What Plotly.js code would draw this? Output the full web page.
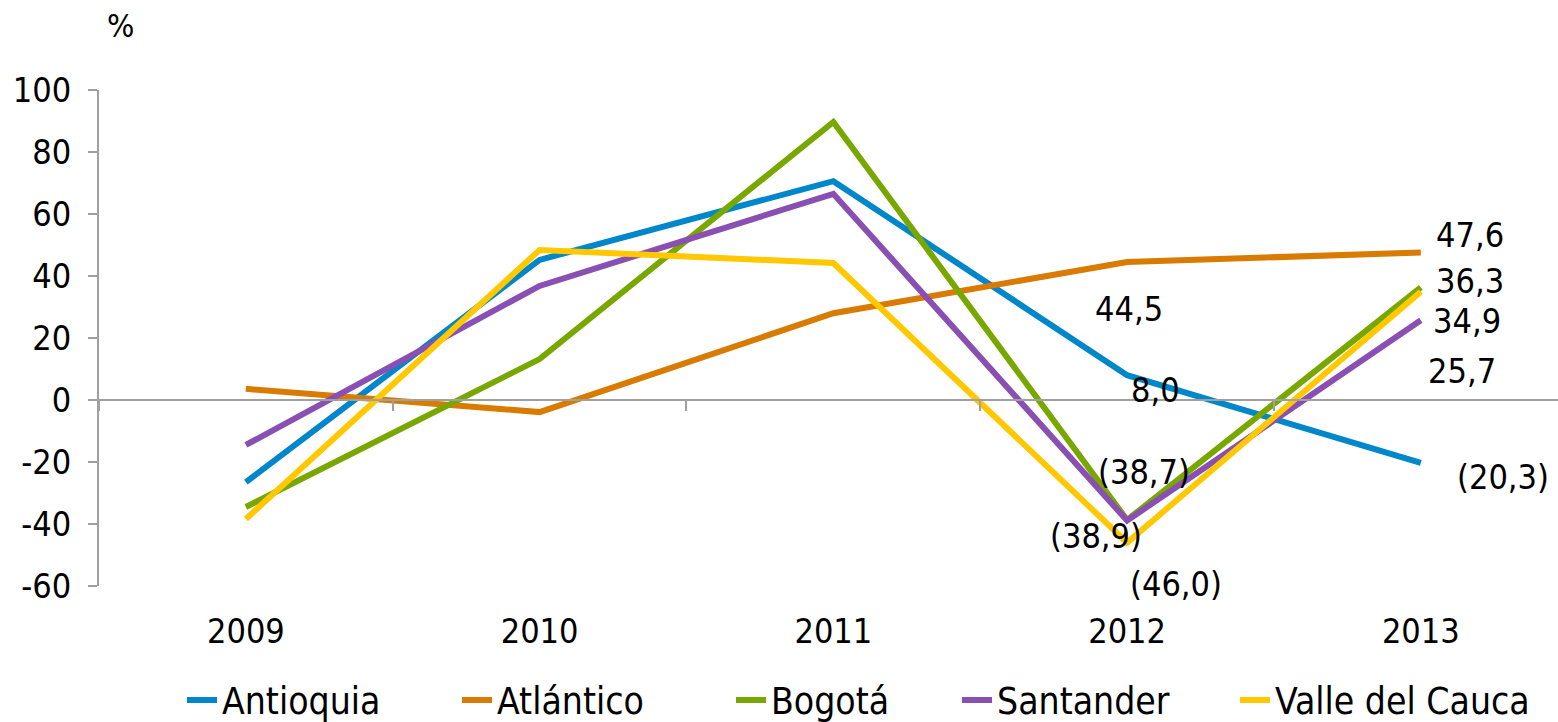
<!DOCTYPE html>
<html>
<head>
<meta charset="utf-8">
<script src="https://cdn.plot.ly/plotly-3.0.1.min.js"></script>
<style>
html,body{margin:0;padding:0;background:#fff;}
#chart{width:1558px;height:722px;}
</style>
</head>
<body>
<div id="chart"></div>
<script>
// ---- data ----
var years = ['2009', '2010', '2011', '2012', '2013'];
var antioquia = [-26.5, 45.2, 70.6, 8.0, -20.3];
var atlantico = [3.6, -3.9, 28.0, 44.5, 47.6];
var bogota = [-34.5, 13.2, 89.7, -38.7, 36.3];
var santander = [-14.5, 36.8, 66.5, -38.9, 25.7];
var valle = [-38.4, 48.4, 44.2, -46.0, 34.9];
var seriesNames = ['Antioquia', 'Atlántico', 'Bogotá', 'Santander', 'Valle del Cauca'];
var yTicks = [-60, -40, -20, 0, 20, 40, 60, 80, 100];

// ---- styles ----
var FONT = '"DejaVu Sans Condensed", "DejaVu Sans", sans-serif';
var colors = ['#0086CB', '#D97B00', '#78A800', '#894FB2', '#FFC800'];
var allSeries = [antioquia, atlantico, bogota, santander, valle];
var legendIds = ['legend', 'legend2', 'legend3', 'legend4', 'legend5'];
var legendLeft = [182, 457, 731, 957, 1235]; // px, text start minus symbol area

var traces = allSeries.map(function (vals, k) {
  return {
    type: 'scatter', mode: 'lines', x: years, y: vals, name: seriesNames[k],
    legend: legendIds[k],
    line: {color: colors[k], width: 6}, hoverinfo: 'x+y+name'
  };
});
// invisible trace to activate the zero-position category axis
traces.push({type: 'scatter', mode: 'lines', x: years, y: years.map(function(){return null;}),
  xaxis: 'x2', yaxis: 'y', showlegend: false, hoverinfo: 'skip', line: {width: 0}});

function fmt(v) {
  var s = Math.abs(v).toFixed(1).replace('.', ',');
  return v < 0 ? '(' + s + ')' : s;
}

// label placements: [series index, year index, xshift, yshift]
var labelSpecs = [
  [1, 4, 49, 17], [2, 4, 49, 6], [4, 4, 46, -29], [3, 4, 41, -51], [0, 4, 82, -14],
  [1, 3, 2, -47], [0, 3, 28, -15], [2, 3, 17, 48], [3, 3, -31, -15], [4, 3, 49, -41]
];
var annotations = labelSpecs.map(function (s) {
  var v = allSeries[s[0]][s[1]];
  return {x: s[1], y: v, xref: 'x', yref: 'y', text: fmt(v), showarrow: false,
    xanchor: 'center', yanchor: 'middle',
    xshift: s[2], yshift: s[3], font: {family: FONT, size: 34, color: '#000'}};
});
annotations.push({xref: 'paper', yref: 'paper', x: 0.015, y: 1.13, text: '%', showarrow: false,
  xanchor: 'center', yanchor: 'middle', font: {family: FONT, size: 32, color: '#000'}});

var xRange = [-0.5, 4.467];
var layout = {
  width: 1558, height: 722,
  margin: {l: 99, r: 0, t: 90, b: 136},
  paper_bgcolor: '#fff', plot_bgcolor: '#fff',
  showlegend: true,
  xaxis: {type: 'category', range: xRange, showgrid: false, zeroline: false, showline: false,
    ticks: '', tickfont: {family: FONT, size: 34, color: '#000'}, ticklabelstandoff: 22,
    fixedrange: true},
  xaxis2: {type: 'category', overlaying: 'x', anchor: 'free', position: 0.375, range: xRange,
    showgrid: false, zeroline: false, showline: true, linecolor: '#A0A0A0', linewidth: 2,
    ticks: 'outside', tickson: 'boundaries', ticklen: 10, tickcolor: '#A0A0A0', tickwidth: 2,
    showticklabels: false, fixedrange: true},
  yaxis: {range: [-60, 100], tickvals: yTicks, ticktext: yTicks.map(String),
    showgrid: false, zeroline: false,
    showline: true, linecolor: '#A0A0A0', linewidth: 2, ticks: 'outside', ticklen: 9,
    tickcolor: '#A0A0A0', tickwidth: 2, ticklabelstandoff: 10,
    tickfont: {family: FONT, size: 34, color: '#000'}, fixedrange: true},
  annotations: annotations
};
legendIds.forEach(function (id, k) {
  layout[id] = {orientation: 'h', xref: 'container', yref: 'container',
    x: legendLeft[k] / 1558, y: 0.03, xanchor: 'left', yanchor: 'middle',
    font: {family: FONT, size: 37, color: '#000'}, bgcolor: 'rgba(0,0,0,0)', borderwidth: 0};
});

Plotly.newPlot('chart', traces, layout, {displayModeBar: false, staticPlot: true});
</script>
</body>
</html>
